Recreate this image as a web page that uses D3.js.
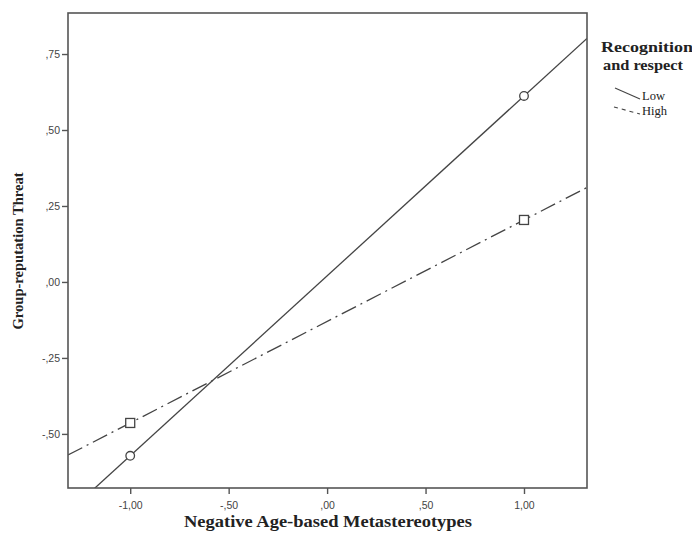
<!DOCTYPE html>
<html><head><meta charset="utf-8">
<script src="https://cdn.jsdelivr.net/npm/d3@7"></script>
<style>body{margin:0;background:#fff}svg{display:block}</style>
</head><body>
<svg id="c" width="692" height="539"></svg>
<script>
const xValues = [-1, 1];
const lowValues = [-0.572, 0.612];
const highValues = [-0.464, 0.204];
const xTicks = [-1, -0.5, 0, 0.5, 1];
const yTicks = [-0.5, -0.25, 0, 0.25, 0.5, 0.75];
const seriesNames = ["Low", "High"];

const svg = d3.select("#c");
const L = 68, R = 587, T = 13, B = 488;
const x = d3.scaleLinear().domain([-1.316, 1.32]).range([L, R]);
const y = d3.scaleLinear().domain([-0.678, 0.885]).range([B, T]);
const fmt = v => { let s = d3.format(".2f")(Math.abs(v)).replace(".", ","); if (Math.abs(v) < 1) s = s.replace(/^0/, ""); return (v < 0 ? "-" : "") + s; };

svg.append("clipPath").attr("id","clip").append("rect").attr("x",L).attr("y",T).attr("width",R-L).attr("height",B-T);

const col = "#444";
function ext(vals){
  const m = (vals[1]-vals[0])/(xValues[1]-xValues[0]);
  const b = vals[0] - m*xValues[0];
  const d = x.domain();
  return [[d[0], m*d[0]+b],[d[1], m*d[1]+b]];
}
const line = d3.line().x(d=>x(d[0])).y(d=>y(d[1]));
const g = svg.append("g").attr("clip-path","url(#clip)");
g.append("path").attr("d", line(ext(lowValues))).attr("fill","none").attr("stroke",col).attr("stroke-width",1.3);
g.append("path").attr("d", line(ext(highValues))).attr("fill","none").attr("stroke",col).attr("stroke-width",1.3).attr("stroke-dasharray","16,5,2,5");

svg.selectAll("circle.m").data(xValues.map((v,i)=>[v, lowValues[i]])).enter().append("circle")
  .attr("cx",d=>x(d[0])).attr("cy",d=>y(d[1])).attr("r",4.3).attr("fill","#fff").attr("stroke",col).attr("stroke-width",1.3);
svg.selectAll("rect.m").data(xValues.map((v,i)=>[v, highValues[i]])).enter().append("rect")
  .attr("x",d=>x(d[0])-4.5).attr("y",d=>y(d[1])-4.5).attr("width",9).attr("height",9).attr("fill","#fff").attr("stroke",col).attr("stroke-width",1.3);

svg.append("rect").attr("x",L).attr("y",T).attr("width",R-L).attr("height",B-T).attr("fill","none").attr("stroke","#555").attr("stroke-width",1.6);

const xa = svg.append("g").attr("transform",`translate(0,${B})`).call(d3.axisBottom(x).tickValues(xTicks).tickFormat(fmt).tickSize(6).tickSizeOuter(0));
const ya = svg.append("g").attr("transform",`translate(${L},0)`).call(d3.axisLeft(y).tickValues(yTicks).tickFormat(fmt).tickSize(6).tickSizeOuter(0));
[xa, ya].forEach(a => {
  a.select(".domain").remove();
  a.selectAll("line").attr("stroke","#555").attr("stroke-width",1.4);
  a.selectAll("text").attr("font-family","'Liberation Sans', Arial, sans-serif").attr("font-size","10.5px").attr("fill","#444");
});
xa.selectAll("text").attr("dy","1.1em");
ya.selectAll("text").attr("dx","1px");

const serif = "'Liberation Serif', 'Times New Roman', serif";
svg.append("text").attr("x",328).attr("y",527).attr("text-anchor","middle")
  .attr("font-family",serif).attr("font-weight","bold").attr("font-size","16px").attr("fill","#222")
  .attr("textLength",288).attr("lengthAdjust","spacingAndGlyphs")
  .text("Negative Age-based Metastereotypes");
svg.append("text").attr("transform",`translate(23,251) rotate(-90)`).attr("text-anchor","middle")
  .attr("font-family",serif).attr("font-weight","bold").attr("font-size","14px").attr("fill","#222")
  .attr("textLength",157).attr("lengthAdjust","spacingAndGlyphs")
  .text("Group-reputation Threat");

const lg = svg.append("g");
lg.append("text").attr("x",601).attr("y",52).attr("font-family",serif).attr("font-weight","bold").attr("font-size","15px").attr("fill","#222")
  .attr("textLength",92).attr("lengthAdjust","spacingAndGlyphs").text("Recognition");
lg.append("text").attr("x",603).attr("y",70).attr("font-family",serif).attr("font-weight","bold").attr("font-size","15px").attr("fill","#222")
  .attr("textLength",80).attr("lengthAdjust","spacingAndGlyphs").text("and respect");
const legendRows = [{x1:615,y1:88,x2:640,y2:99, dash:null}, {x1:614,y1:107,x2:640,y2:114, dash:"4,4"}];
seriesNames.forEach((n,i) => {
  const r = legendRows[i];
  lg.append("line").attr("x1",r.x1).attr("y1",r.y1).attr("x2",r.x2).attr("y2",r.y2).attr("stroke",col).attr("stroke-width",1.1).attr("stroke-dasharray",r.dash);
  lg.append("text").attr("x",642).attr("y",i===0?100:115).attr("font-family",serif).attr("font-size","12.5px").attr("fill","#222").text(n);
});
</script>
</body></html>
